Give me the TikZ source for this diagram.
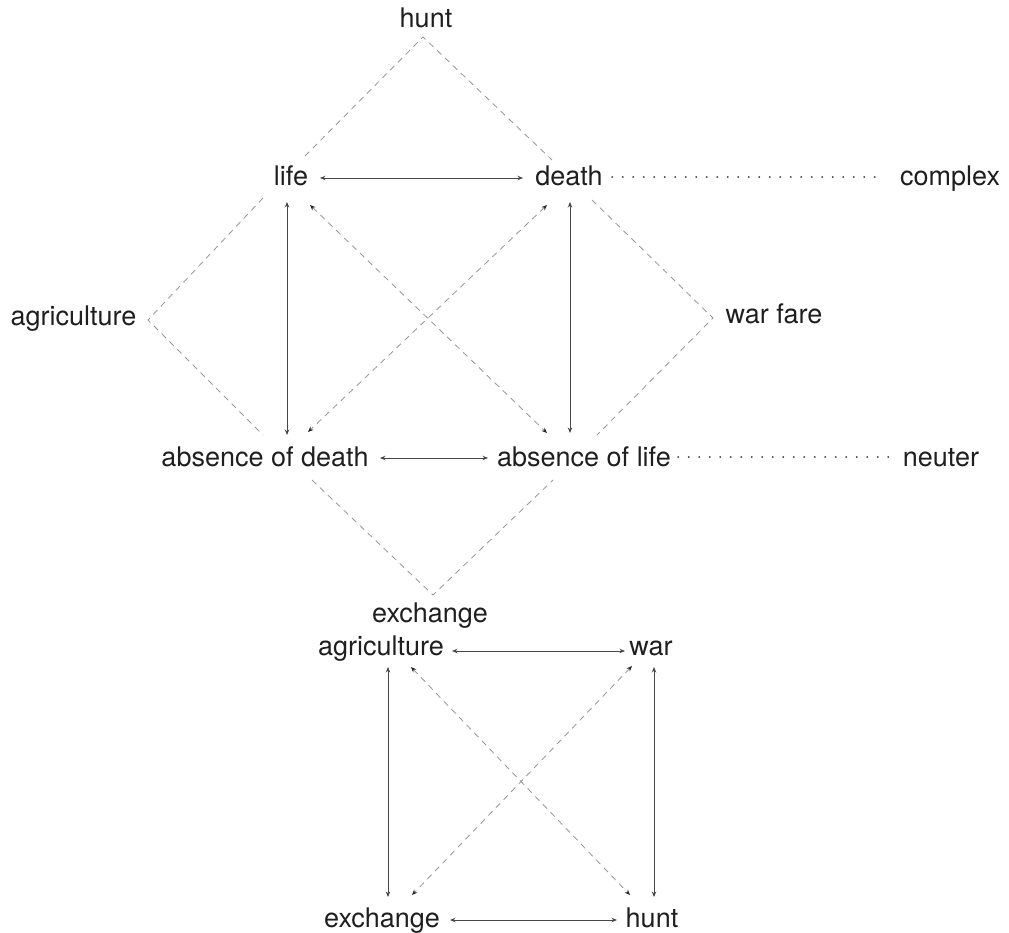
\documentclass[tikz,border=0pt]{standalone}
\usepackage{fontspec}
\setmainfont{TeX Gyre Heros}
\usetikzlibrary{arrows.meta}
\begin{document}
\begin{tikzpicture}[x=1pt,y=-1pt,
  lbl/.style={font=\fontsize{27}{30}\selectfont, text=black!88, inner sep=0pt, anchor=base},
  solidarr/.style={draw=black!72, line width=0.85pt, {Stealth[length=5.5pt,width=4.5pt]}-{Stealth[length=5.5pt,width=4.5pt]}},
  dasharr/.style={draw=black!40, line width=0.85pt, dash pattern=on 6pt off 5pt, {Stealth[length=5.5pt,width=4.5pt,color=black!85]}-{Stealth[length=5.5pt,width=4.5pt,color=black!85]}},
  dashline/.style={draw=black!40, line width=0.85pt, dash pattern=on 6pt off 5pt},
  dotline/.style={draw=black!70, line width=1.4pt, line cap=round, dash pattern=on 0.5pt off 10pt}]
\useasboundingbox (0,0) rectangle (1009,932);

% text nodes
\node[lbl] (hunt) at (426,27) {hunt};
\node[lbl] (life) at (291,185) {life};
\node[lbl] (death) at (569,185) {death};
\node[lbl] (complex) at (950,185) {complex};
\node[lbl] (agri) at (73.5,325) {agriculture};
\node[lbl] (warfare) at (774,323) {war fare};
\node[lbl] (absD) at (265,466) {absence of death};
\node[lbl] (absL) at (584,466) {absence of life};
\node[lbl] (neuter) at (941,466) {neuter};
\node[lbl] (exch) at (430,622) {exchange};
\node[lbl] (agriB) at (381,655) {agriculture};
\node[lbl] (war) at (651,655) {war};
\node[lbl] (exchB) at (382,927) {exchange};
\node[lbl] (huntB) at (652,927) {hunt};

% connector ports
\coordinate (hT) at (423,37);
\coordinate (hL) at (305,156);
\coordinate (hR) at (552,160);
\coordinate (lifeE) at (320,178);
\coordinate (deathW) at (523,178);
\coordinate (lifeS) at (287,202);
\coordinate (lifeSE) at (310,205);
\coordinate (deathS) at (570,202);
\coordinate (deathSW) at (547,205);
\coordinate (absDN) at (287,435);
\coordinate (absDNE) at (308,432);
\coordinate (absLN) at (570,433);
\coordinate (absLNW) at (547,433);
\coordinate (aT) at (263,198);
\coordinate (aP) at (148,320);
\coordinate (aB) at (263,435);
\coordinate (wT) at (592,200);
\coordinate (wP) at (713,318);
\coordinate (wB) at (597,435);
\coordinate (deathE) at (612,177);
\coordinate (complexW) at (883,177);
\coordinate (absDE) at (380,458);
\coordinate (absLW) at (488,458);
\coordinate (absLE) at (678,457);
\coordinate (neuterW) at (895,457);
\coordinate (eL) at (312,480);
\coordinate (eP) at (433,595);
\coordinate (eR) at (553,480);
\coordinate (agriBE) at (452,651);
\coordinate (warW) at (625,651);
\coordinate (agriBS) at (388,667);
\coordinate (agriBSE) at (411,667);
\coordinate (warS) at (654,667);
\coordinate (warSW) at (632,666);
\coordinate (exchBN) at (388,897);
\coordinate (exchBNE) at (412,895);
\coordinate (huntBN) at (654,897);
\coordinate (huntBNW) at (630,895);
\coordinate (exchBE) at (450,920);
\coordinate (huntBW) at (617,920);

% upper square
\draw[solidarr] (lifeE) -- (deathW);
\draw[solidarr] (lifeS) -- (absDN);
\draw[solidarr] (deathS) -- (absLN);
\draw[solidarr] (absDE) -- (absLW);
\draw[dasharr] (lifeSE) -- (absLNW);
\draw[dasharr] (deathSW) -- (absDNE);

% diamonds
\draw[dashline] (hL) -- (hT) -- (hR);
\draw[dashline] (aT) -- (aP) -- (aB);
\draw[dashline] (wT) -- (wP) -- (wB);
\draw[dashline] (eL) -- (eP) -- (eR);

% dotted
\draw[dotline] (deathE) -- (complexW);
\draw[dotline] (absLE) -- (neuterW);

% lower square
\draw[solidarr] (agriBE) -- (warW);
\draw[solidarr] (agriBS) -- (exchBN);
\draw[solidarr] (warS) -- (huntBN);
\draw[solidarr] (exchBE) -- (huntBW);
\draw[dasharr] (agriBSE) -- (huntBNW);
\draw[dasharr] (warSW) -- (exchBNE);
\end{tikzpicture}
\end{document}
